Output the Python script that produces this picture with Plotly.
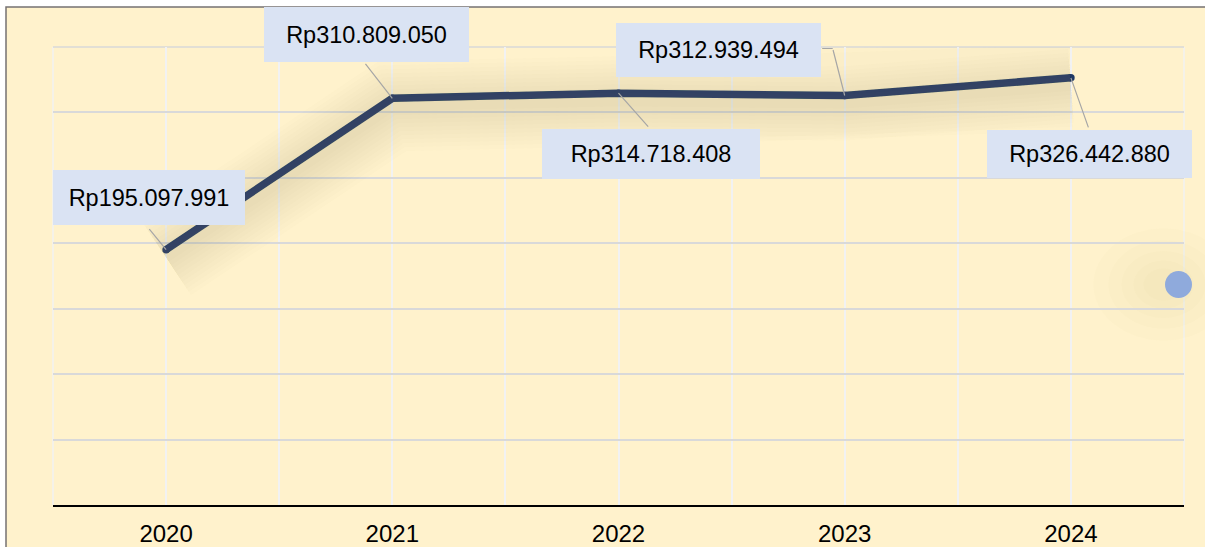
import plotly.graph_objects as go

years = [2020, 2021, 2022, 2023, 2024]
values = [195097991, 310809050, 314718408, 312939494, 326442880]
labels = ["Rp195.097.991", "Rp310.809.050", "Rp314.718.408", "Rp312.939.494", "Rp326.442.880"]
tick_labels = ["2020", "2021", "2022", "2023", "2024"]

# label box placement (pixel offsets from point: dx right, dy up), box sizes
box_dx = [-17, -25.5, 32, -126.5, 18.5]
box_dy = [52, 64, -61, 45.5, -75.7]
box_w = [192, 205, 218, 205, 205]
box_h = [55, 55, 50, 54, 48]
# leader tail offsets (px from point)
lead_dx = [-18, -28, 31, -12, 18]
lead_dy = [22, 36, -35, 47, -51]

W, H = 1205, 547
L, R, T, B = 53, 21, 47, 42
pw, ph = W - L - R, H - T - B

LINE = "#1F3864"
BG = "#FFF2CC"
FONT = "Liberation Sans, Arial, sans-serif"

fig = go.Figure()

# soft shadow under line (on shifted overlay axis)
for wdt in range(90, 8, -8):
    fig.add_trace(go.Scatter(x=years, y=values, mode="lines", yaxis="y2",
                             line=dict(color="rgba(170,140,80,0.018)", width=wdt),
                             hoverinfo="skip", showlegend=False))

fig.add_trace(go.Scatter(x=years, y=values, mode="lines+markers",
                         line=dict(color=LINE, width=7.5),
                         marker=dict(color=LINE, size=7.5, line=dict(width=0)),
                         showlegend=False))

ann = []
for i in range(len(years)):
    ann.append(dict(x=years[i], y=values[i], xref="x", yref="y", text=labels[i],
                    showarrow=False, xshift=box_dx[i], yshift=box_dy[i],
                    width=box_w[i], height=box_h[i], bgcolor="#DAE3F3",
                    borderwidth=0, borderpad=0, align="center", valign="middle",
                    font=dict(family=FONT, size=23.5, color="#000000")))
    ann.append(dict(x=years[i], y=values[i], xref="x", yref="y", text="",
                    showarrow=True, arrowhead=0, arrowwidth=1.2, arrowcolor="#A6A6A6",
                    ax=lead_dx[i], ay=-lead_dy[i], standoff=0, startstandoff=0,
                    font=dict(size=1)))
# elbow segment for 2023 leader
ann.append(dict(x=years[3], y=values[3], xref="x", yref="y", text="",
                showarrow=True, arrowhead=0, arrowwidth=1.2, arrowcolor="#A6A6A6",
                xshift=lead_dx[3], yshift=lead_dy[3], ax=-12, ay=0,
                font=dict(size=1)))

dot_cx, dot_cy, dot_r = (1178.5 - L) / pw, (H - B - 284.5) / ph, 13.5
shapes = [
    dict(type="rect", xref="paper", yref="paper",
         x0=(6 - L) / pw, x1=1.05, y0=-0.3, y1=(H - B - 7) / ph,
         line=dict(color="#767171", width=1.5), fillcolor=BG, layer="below"),
    # plot-edge gridlines
    dict(type="line", xref="paper", yref="paper", x0=0, x1=0, y0=0, y1=1,
         line=dict(color="#F2F2F2", width=1.5), layer="below"),
    dict(type="line", xref="paper", yref="paper", x0=1, x1=1, y0=0, y1=1,
         line=dict(color="#F2F2F2", width=1.5), layer="below"),
    dict(type="line", xref="paper", yref="paper", x0=0, x1=1, y0=1, y1=1,
         line=dict(color="#D9D9D9", width=1.5), layer="below"),
]
# blue dot soft shadow
for rr in [70, 55, 42, 30, 20]:
    shapes.append(dict(type="circle", xref="paper", yref="paper",
                       x0=dot_cx - (rr + 15) / pw, x1=dot_cx + (rr - 15) / pw,
                       y0=dot_cy - rr * 0.8 / ph, y1=dot_cy + rr * 0.8 / ph,
                       line=dict(width=0), fillcolor="rgba(190,160,90,0.022)", layer="below"))
shapes.append(dict(type="circle", xref="paper", yref="paper",
                   x0=dot_cx - dot_r / pw, x1=dot_cx + dot_r / pw,
                   y0=dot_cy - dot_r / ph, y1=dot_cy + dot_r / ph,
                   line=dict(width=0), fillcolor="#8FAADC", layer="above"))

shift = 8 / ph * 350e6
fig.update_layout(
    width=W, height=H,
    margin=dict(l=L, r=R, t=T, b=B, autoexpand=False),
    paper_bgcolor="#FFFFFF",
    plot_bgcolor="rgba(0,0,0,0)",
    xaxis=dict(range=[2019.5, 2024.5], tickvals=years, ticktext=tick_labels,
               showgrid=True, gridcolor="#F2F2F2", gridwidth=1.5,
               minor=dict(tickvals=[2019.5, 2020.5, 2021.5, 2022.5, 2023.5, 2024.5],
                          showgrid=True, gridcolor="#F2F2F2", gridwidth=1.5),
               showline=True, linecolor="#000000", linewidth=1.5,
               ticks="", zeroline=False, automargin=False, ticklabelstandoff=6,
               tickfont=dict(family=FONT, size=24, color="#000000")),
    yaxis=dict(range=[0, 350e6], dtick=50e6, showticklabels=False, automargin=False,
               showgrid=True, gridcolor="#D9D9D9", gridwidth=1.5, zeroline=False),
    yaxis2=dict(range=[shift, 350e6 + shift], overlaying="y", visible=False),
    annotations=ann,
    shapes=shapes,
)

fig.write_html("out.html", config={"displayModeBar": False},
               post_script="document.body.style.margin='0';document.body.style.overflow='hidden';")
